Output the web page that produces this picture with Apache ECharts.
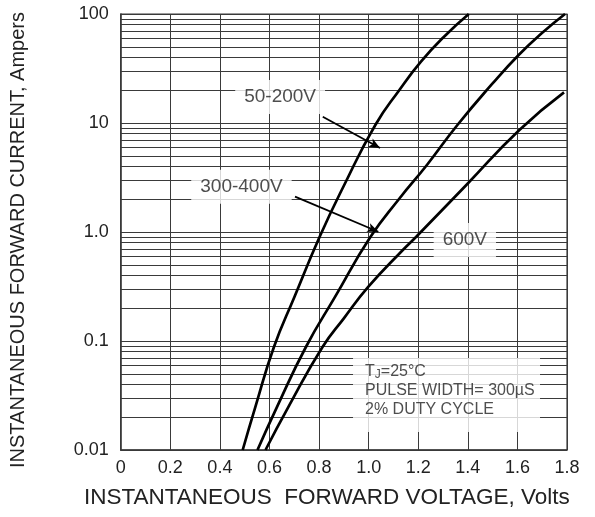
<!DOCTYPE html>
<html>
<head>
<meta charset="utf-8">
<script src="https://cdn.jsdelivr.net/npm/echarts@6/dist/echarts.min.js"></script>
<style>
html,body{margin:0;padding:0;background:#fff;}
#chart{width:595px;height:517px;}
</style>
</head>
<body>
<div id="chart"></div>
<script>
// ---- data ----
const curve50_200V = [[0.492,0.01],[0.5435,0.025],[0.618,0.0881],[0.701,0.255],[0.802,0.90],[0.898,2.60],[1.027,9.59],[1.124,20.1],[1.211,36.5],[1.304,61.9],[1.404,100]];
const curve300_400V = [[0.5516,0.01],[0.631,0.025],[0.747,0.0881],[0.865,0.255],[1.007,0.90],[1.125,2.04],[1.235,4.12],[1.358,9.59],[1.498,22.8],[1.605,42.1],[1.699,66.9],[1.792,100]];
const curve600V = [[0.584,0.01],[0.677,0.025],[0.814,0.0881],[0.90,0.1615],[0.999,0.315],[1.138,0.684],[1.191,0.90],[1.394,2.70],[1.608,8.63],[1.788,19.1]];
const yDecades = [0.01,0.1,1,10];
const yMinorMultipliers = [2,3,4,5,6,7,8,9];
const yTickLabels = {"0.01":"0.01","0.1":"0.1","1":"1.0","10":"10","100":"100"};
const labelItems = [
  {name:"50-200V", value:[0.643,17.3]},
  {name:"300-400V", value:[0.487,2.60]},
  {name:"600V", value:[1.388,0.845]}
];
const arrow50_200V = [[0.815,11.4],[1.046,5.90]];
const arrow300_400V = [[0.703,2.11],[1.039,1.006]];
const noteAnchor = [0.937,0.0698];
const noteLines = ["T{s|J}=25°C","PULSE WIDTH= 300µS","2% DUTY CYCLE"];

const FONT = "'Liberation Sans', Arial, Helvetica, sans-serif";
const TXT = '#222';
const GRID = '#3a3a3a';

const minorLines = [];
yDecades.forEach(d => yMinorMultipliers.forEach(m => minorLines.push({yAxis: +(d*m).toPrecision(3)})));

const chart = echarts.init(document.getElementById('chart'), null, {renderer:'canvas'});
const curveStyle = {color:'#000', width:2.7};
function curve(name, data){
  return {type:'line', name:name, data:data, smooth:0.5, showSymbol:false, symbol:'none',
    lineStyle:curveStyle, z:6, silent:true};
}
function arrow(pts){
  return {silent:true, symbol:['none','arrow'], symbolSize:[7,11], z:6,
    label:{show:false}, lineStyle:{color:'#000', width:1.8, type:'solid'},
    data:[[{coord:pts[0]},{coord:pts[1]}]]};
}
const s1 = curve('50-200V', curve50_200V); s1.markLine = arrow(arrow50_200V);
const s2 = curve('300-400V', curve300_400V); s2.markLine = arrow(arrow300_400V);
const s3 = curve('600V', curve600V);

chart.setOption({
  animation:false,
  grid:{left:120.7, right:28, top:14, bottom:67, show:true, borderColor:GRID, borderWidth:1.2},
  xAxis:{type:'value', min:0, max:1.8, interval:0.2,
    name:'INSTANTANEOUS  FORWARD VOLTAGE, Volts', nameLocation:'middle', nameGap:36,
    nameTextStyle:{fontFamily:FONT, fontSize:22.5, color:TXT, padding:[0,34,0,0]},
    axisLine:{show:true, lineStyle:{color:GRID, width:1.5}},
    axisTick:{show:false},
    axisLabel:{fontFamily:FONT, fontSize:18, color:TXT, margin:9,
      formatter:v => v===0 ? '0' : v.toFixed(1)},
    splitLine:{show:true, lineStyle:{color:GRID, width:1}}},
  yAxis:{type:'log', logBase:10, min:0.01, max:100,
    name:'INSTANTANEOUS FORWARD CURRENT, Ampers', nameLocation:'middle', nameGap:92, nameRotate:90,
    nameTextStyle:{fontFamily:FONT, fontSize:20, color:TXT, padding:[0,16,0,0]},
    axisLine:{show:true, lineStyle:{color:GRID, width:1.5}},
    axisTick:{show:false},
    axisLabel:{fontFamily:FONT, fontSize:18, color:TXT, margin:12,
      formatter:v => yTickLabels[String(+v.toPrecision(3))] || ''},
    splitLine:{show:true, lineStyle:{color:GRID, width:1}}},
  series:[
    {type:'line', data:[[0,0.01]], showSymbol:false, symbol:'none', lineStyle:{width:0}, silent:true, z:1,
      markLine:{silent:true, symbol:'none', z:1, label:{show:false},
        lineStyle:{color:GRID, width:1, type:'solid'}, data:minorLines}},
    {type:'scatter', data:labelItems, symbolSize:0, z:4, silent:true,
      label:{show:true, position:'inside', formatter:'{b}', fontFamily:FONT, fontSize:19, color:TXT,
        backgroundColor:'#fff', padding:[7,9], lineHeight:20}},
    {type:'scatter', data:[{value:noteAnchor}], symbolSize:0, z:4, silent:true,
      label:{show:true, position:[0,0], align:'left', verticalAlign:'top',
        formatter:noteLines.join('\n'), fontFamily:FONT, fontSize:16, color:TXT, lineHeight:19,
        backgroundColor:'#fff', padding:[4,8,0,12], width:167, height:70,
        rich:{s:{fontFamily:FONT, fontSize:12, color:TXT, verticalAlign:'bottom', lineHeight:19}}}},
    s1, s2, s3
  ]
});
</script>
</body>
</html>
